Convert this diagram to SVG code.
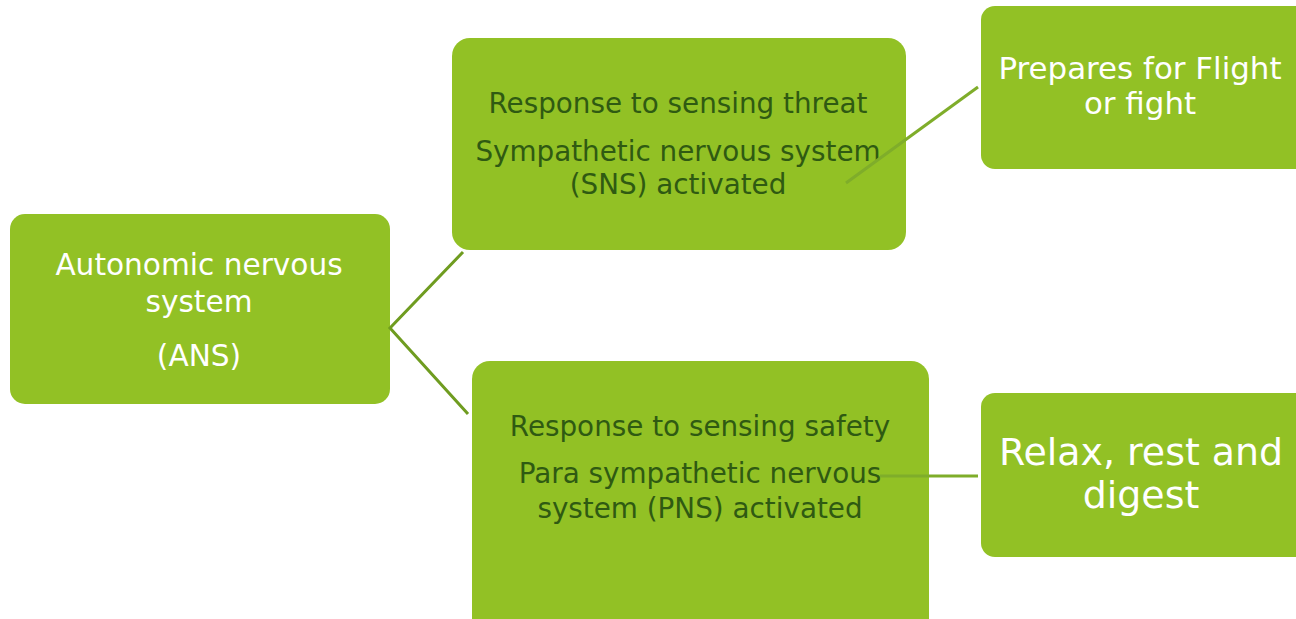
<svg xmlns="http://www.w3.org/2000/svg" width="1296" height="619" viewBox="0 0 1296 619">
  <style>
    .box { fill: #92c125; }
    .t { font-family: "DejaVu Sans", Verdana, sans-serif; text-anchor: middle; }
    .light { fill: #ffffff; }
    .dark { fill: #2f5a12; }
    .link { stroke: #6f9c20; stroke-width: 3; fill: none; }
    .link2 { stroke: #7fad2a; stroke-width: 3; fill: none; }
  </style>
  <rect width="1296" height="619" fill="#ffffff"/>

  <g id="node-ans">
    <rect class="box" x="10" y="214" width="380" height="190" rx="15"/>
    <text class="t light" x="199" y="275" font-size="29.6">Autonomic nervous</text>
    <text class="t light" x="199" y="312" font-size="29.6">system</text>
    <text class="t light" x="199" y="366" font-size="29.6">(ANS)</text>
  </g>

  <g id="node-sns">
    <rect class="box" x="452" y="38" width="454" height="212" rx="18"/>
    <text class="t dark" x="678" y="113" font-size="27.8">Response to sensing threat</text>
    <text class="t dark" x="678" y="161" font-size="27.8">Sympathetic nervous system</text>
    <text class="t dark" x="678" y="194" font-size="27.8">(SNS) activated</text>
  </g>

  <g id="node-pns">
    <rect class="box" x="472" y="361" width="457" height="280" rx="18"/>
    <text class="t dark" x="700" y="436" font-size="27.8">Response to sensing safety</text>
    <text class="t dark" x="700" y="483" font-size="27.8">Para sympathetic nervous</text>
    <text class="t dark" x="700" y="518" font-size="27.8">system (PNS) activated</text>
  </g>

  <g id="node-flight">
    <rect class="box" x="981" y="6" width="340" height="163" rx="14"/>
    <text class="t light" x="1140" y="79" font-size="30.9">Prepares for Flight</text>
    <text class="t light" x="1140" y="114" font-size="30.9">or fight</text>
  </g>

  <g id="node-relax">
    <rect class="box" x="981" y="393" width="340" height="164" rx="14"/>
    <text class="t light" x="1141" y="465" font-size="37.9">Relax, rest and</text>
    <text class="t light" x="1141" y="508" font-size="37.9">digest</text>
  </g>

  <g id="connectors">
    <polyline class="link" points="463,252 390,328 468,414"/>
    <line class="link2" x1="846" y1="183" x2="978" y2="87"/>
    <line class="link2" x1="880" y1="476" x2="978" y2="476"/>
  </g>
</svg>
